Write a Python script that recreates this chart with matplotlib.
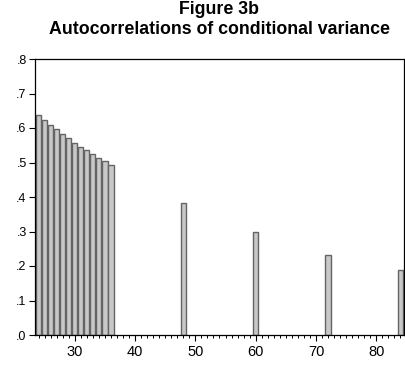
import matplotlib
matplotlib.use('Agg')
import matplotlib.pyplot as plt
from matplotlib.ticker import MultipleLocator, FuncFormatter

lags = [24, 25, 26, 27, 28, 29, 30, 31, 32, 33, 34, 35, 36, 48, 60, 72, 84]
acf = [0.637, 0.622, 0.610, 0.596, 0.583, 0.570, 0.557, 0.546, 0.535,
       0.525, 0.513, 0.503, 0.492, 0.383, 0.298, 0.231, 0.188]
yticks = [0.0, 0.1, 0.2, 0.3, 0.4, 0.5, 0.6, 0.7, 0.8]
xticks = [30, 40, 50, 60, 70, 80]

plt.rcParams['font.family'] = ['Liberation Sans', 'DejaVu Sans']

fig = plt.figure(figsize=(4.06, 3.65), dpi=100)
ax = fig.add_axes([35 / 406, 30 / 365, 369 / 406, 276 / 365])

ax.bar(lags, acf, width=0.85, color='#c8c8c8', edgecolor='#646464',
       linewidth=1.0, zorder=2)

ax.set_xlim(23.4, 84.6)
ax.set_ylim(0, 0.8)
ax.set_xticks(xticks)
ax.set_yticks(yticks)
ax.xaxis.set_minor_locator(MultipleLocator(1))
ax.yaxis.set_major_formatter(FuncFormatter(lambda v, p: f'{v:.1f}'.lstrip('0')))
ax.tick_params(axis='both', which='major', direction='out', length=4,
               width=0.8, color='black')
ax.tick_params(axis='y', labelsize=9, pad=2)
ax.tick_params(axis='x', labelsize=10.5, pad=3)
ax.tick_params(axis='x', which='minor', direction='out', length=2.5, width=0.7)
for s in ax.spines.values():
    s.set_linewidth(0.9)

cx = (35 + 404) / 2 / 406
fig.text(cx, 1 - 13.5 / 365, 'Figure 3b', ha='center', va='baseline',
         fontsize=12.8, fontweight='bold')
fig.text(cx, 1 - 34 / 365, 'Autocorrelations of conditional variance',
         ha='center', va='baseline', fontsize=12.8, fontweight='bold')

plt.savefig('out.png', dpi=100)
plt.close()
